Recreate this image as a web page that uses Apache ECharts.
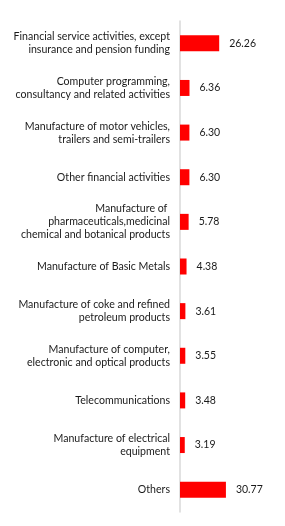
<!DOCTYPE html>
<html>
<head>
<meta charset="utf-8">
<script src="https://cdn.jsdelivr.net/npm/echarts@6/dist/echarts.min.js"></script>
<style>
html,body{margin:0;padding:0;background:#fff;}
#chart{width:285px;height:526px;}
</style>
</head>
<body>
<div id="chart"></div>
<script>
var categories = [
  "Financial service activities, except\ninsurance and pension funding",
  "Computer programming,\nconsultancy and related activities",
  "Manufacture of motor vehicles,\ntrailers and semi-trailers",
  "Other financial activities",
  "Manufacture of \npharmaceuticals,medicinal\nchemical and botanical products",
  "Manufacture of Basic Metals",
  "Manufacture of coke and refined\npetroleum products",
  "Manufacture of computer,\nelectronic and optical products",
  "Telecommunications",
  "Manufacture of electrical\nequipment",
  "Others"
];
var values = [26.26, 6.36, 6.30, 6.30, 5.78, 4.38, 3.61, 3.55, 3.48, 3.19, 30.77];

var chart = echarts.init(document.getElementById('chart'));
chart.setOption({
  animation: false,
  grid: {left: 180, top: 21, width: 100, height: 491, containLabel: false},
  xAxis: {
    type: 'value', min: 0, max: 67, show: false
  },
  yAxis: {
    type: 'category', data: categories, inverse: true,
    axisLine: {show: true, lineStyle: {color: '#d9d9d9', width: 1.5}},
    axisTick: {show: false},
    axisLabel: {
      margin: 10, fontSize: 10.6, color: '#1a1a1a', fontFamily: 'Lato', lineHeight: 13, align: 'right'
    }
  },
  series: [{
    type: 'bar', data: values, barWidth: 16,
    itemStyle: {color: '#ff0000'},
    label: {
      show: true, position: 'right', distance: 10, fontSize: 10.5, color: '#1a1a1a', fontFamily: 'Lato',
      formatter: function(p){ return p.value.toFixed(2); }
    }
  }]
});
</script>
</body>
</html>
